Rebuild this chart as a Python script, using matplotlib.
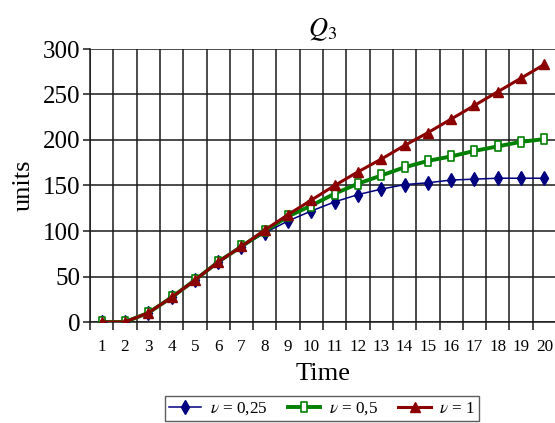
import matplotlib
matplotlib.use("Agg")
import matplotlib.pyplot as plt
from matplotlib.path import Path
from matplotlib.ticker import FixedLocator

plt.rcParams["font.family"] = ["Liberation Serif", "DejaVu Serif"]
plt.rcParams["mathtext.fontset"] = "stix"

# Data
time = list(range(1, 21))
q_low = [0, 0, 10, 27, 46, 66, 82, 98, 111, 122, 132, 140, 146, 151, 153, 156, 157, 158, 158, 158]
q_mid = [0, 0, 10, 27, 46, 66, 83, 100, 116, 128, 141, 152, 161, 170, 177, 182, 188, 193, 198, 201]
q_high = [0, 0, 10, 27, 46, 66, 83, 101, 118, 134, 150, 165, 179, 194, 208, 223, 238, 253, 268, 283]
series_labels = [r"$\nu$ = 0,25", r"$\nu$ = 0,5", r"$\nu$ = 1"]
y_ticks = [0, 50, 100, 150, 200, 250, 300]

# Tall rectangle marker for the middle series
rect_marker = Path([(-0.36, -0.5), (0.36, -0.5), (0.36, 0.5), (-0.36, 0.5), (-0.36, -0.5)],
                   [Path.MOVETO, Path.LINETO, Path.LINETO, Path.LINETO, Path.CLOSEPOLY])

fig = plt.figure(figsize=(5.55, 4.23), dpi=100)
ax = fig.add_axes([90 / 555, 1 - 322 / 423, 466 / 555, (322 - 49) / 423])

ax.plot(time, q_low, color="#000080", lw=1.1, marker="d", ms=7.5,
        mfc="#000080", mec="#000080", label=series_labels[0], zorder=3)
ax.plot(time, q_mid, color="#008000", lw=2.8, marker=rect_marker, ms=7,
        mfc="white", mec="#008000", mew=1.2, label=series_labels[1], zorder=4)
ax.plot(time, q_high, color="#8B0000", lw=2.2, marker="^", ms=7.5,
        mfc="#8B0000", mec="#8B0000", label=series_labels[2], zorder=5)

ax.set_xlim(0.5, 20.5)
ax.set_ylim(0, 300)
ax.set_xticks(time)
ax.set_xticklabels([str(t) for t in time], fontsize=12.3)
ax.xaxis.set_minor_locator(FixedLocator([t + 0.5 for t in range(0, 20)]))
ax.set_yticks(y_ticks)
ax.set_yticklabels([str(v) for v in y_ticks], fontsize=18)

ax.tick_params(axis="x", which="major", length=0, pad=12)
ax.tick_params(axis="x", which="minor", length=6, width=1.1, color="#1a1a1a", direction="out")
ax.tick_params(axis="y", which="major", length=5, width=1.1, color="#1a1a1a", direction="out", pad=2)

ax.grid(True, axis="y", which="major", color="#1a1a1a", lw=1.1)
ax.grid(True, axis="x", which="minor", color="#1a1a1a", lw=1.1)
ax.set_axisbelow(True)

for side in ("top", "right"):
    ax.spines[side].set_visible(False)
for side in ("left", "bottom"):
    ax.spines[side].set_color("#1a1a1a")
    ax.spines[side].set_linewidth(1.1)

ax.set_title(r"$Q_3$", fontsize=19, pad=9)
ax.set_xlabel("Time", fontsize=19, labelpad=6)
ax.set_ylabel("units", fontsize=19, labelpad=6)

leg = fig.legend(loc="lower center", bbox_to_anchor=(322 / 555, 0.0), ncol=3,
                 fontsize=12.3, frameon=True, fancybox=False, edgecolor="#333333",
                 handlelength=1.9, handletextpad=0.5, columnspacing=1.2,
                 borderpad=0.25, borderaxespad=0.1)
leg.get_frame().set_linewidth(1.0)

fig.savefig("out.png", dpi=100)
